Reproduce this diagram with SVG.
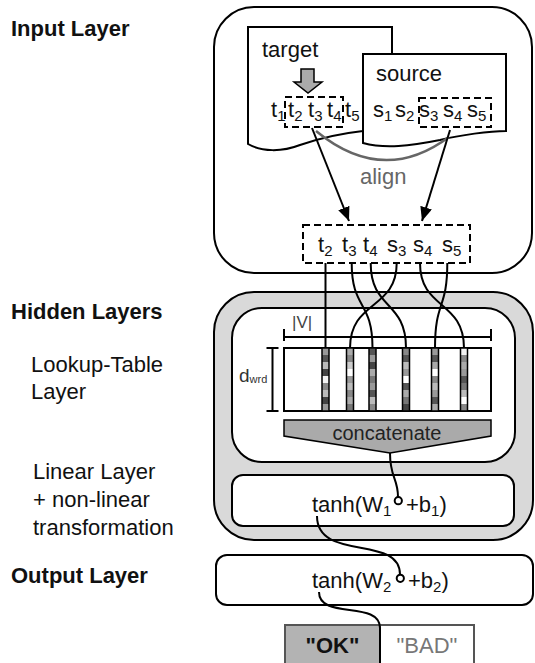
<svg xmlns="http://www.w3.org/2000/svg" width="535" height="663" viewBox="0 0 535 663">
<style>
text{font-family:"Liberation Sans",Arial,sans-serif;font-size:22px;fill:#111}
.b{font-weight:bold}
.sub{font-size:13px}
.sub15{font-size:15px}
.box{fill:#fff;stroke:#000;stroke-width:2}
.ln{fill:none;stroke:#000;stroke-width:2}
.dash{fill:none;stroke:#000;stroke-width:2;stroke-dasharray:7,4}
.col{stroke:#000;stroke-width:1.5}
</style>
<defs>
<marker id="ah" markerUnits="userSpaceOnUse" markerWidth="14" markerHeight="12" viewBox="0 0 14 12" refX="14" refY="6" orient="auto">
<path d="M0,0 L14,6 L0,12 z" fill="#000"/>
</marker>
</defs>
<g id="labels">
<text class="b" x="11" y="36">Input Layer</text>
<text class="b" x="11" y="319">Hidden Layers</text>
<text x="31" y="372">Lookup-Table</text>
<text x="31" y="399">Layer</text>
<text x="33" y="479">Linear Layer</text>
<text x="33" y="507">+ non-linear</text>
<text x="33" y="535">transformation</text>
<text class="b" x="11" y="583">Output Layer</text>
</g>
<g id="input-layer">
<rect class="box" x="214" y="7" width="318" height="266" rx="40"/>
<path class="box" d="M248,27 L392,27 L392,60 L363,60 L363,131 C345,133 320,138 300,145 C282,152 262,152 248,144 Z"/>
<path class="box" d="M363,54 L506,54 L506,131 C490,131 460,135 440,140 C410,146 385,149 363,143 Z"/>
<text x="262" y="57">target</text>
<text x="376" y="81">source</text>
<path d="M301,69 L314,69 L314,82 L322,82 L308,93 L294,82 L301,82 Z" fill="#aaa" stroke="#000" stroke-width="1.5"/>
<text x="271" y="117">t<tspan class="sub15" dy="4">1</tspan></text>
<text x="288" y="117">t<tspan class="sub15" dy="4">2</tspan></text>
<text x="308" y="117">t<tspan class="sub15" dy="4">3</tspan></text>
<text x="327" y="117">t<tspan class="sub15" dy="4">4</tspan></text>
<text x="345" y="117">t<tspan class="sub15" dy="4">5</tspan></text>
<text x="373" y="117">s<tspan class="sub15" dy="4">1</tspan></text>
<text x="395" y="117">s<tspan class="sub15" dy="4">2</tspan></text>
<text x="419" y="117">s<tspan class="sub15" dy="4">3</tspan></text>
<text x="443" y="117">s<tspan class="sub15" dy="4">4</tspan></text>
<text x="467" y="117">s<tspan class="sub15" dy="4">5</tspan></text>
<rect class="dash" x="285" y="97" width="58" height="30"/>
<rect class="dash" x="419" y="98" width="72" height="29"/>
<path d="M316,131 Q383,186 449,137" fill="none" stroke="#666" stroke-width="2.5"/>
<text x="360" y="184" style="fill:#666">align</text>
<rect class="dash" x="303" y="225" width="167" height="38"/>
<text x="318" y="252">t<tspan class="sub15" dy="4">2</tspan></text>
<text x="342" y="252">t<tspan class="sub15" dy="4">3</tspan></text>
<text x="363" y="252">t<tspan class="sub15" dy="4">4</tspan></text>
<text x="387" y="252">s<tspan class="sub15" dy="4">3</tspan></text>
<text x="413" y="252">s<tspan class="sub15" dy="4">4</tspan></text>
<text x="442" y="252">s<tspan class="sub15" dy="4">5</tspan></text>
</g>
<g id="hidden-layers">
<rect x="214" y="292" width="319" height="248" rx="40" fill="#d9d9d9" stroke="#000" stroke-width="2"/>
<rect class="box" x="232" y="308" width="283" height="154" rx="30"/>
<g id="lookup-table">
<path class="ln" d="M284,337 L491,337 M284,329 L284,341 M491,329 L491,341" stroke-width="1.8"/>
<text x="292" y="328" style="font-size:17px;fill:#444">|V|</text>
<path class="ln" d="M272.5,348 L272.5,411 M266.5,348 L278.5,348 M266.5,411 L278.5,411" stroke-width="1.8"/>
<text x="239" y="382" style="font-size:19px;fill:#333">d<tspan style="font-size:11px" dy="1">wrd</tspan></text>
<rect class="box" x="284" y="348" width="207" height="63"/>
<g id="col1">
<rect x="322" y="348" width="7" height="7" fill="#999"/><rect x="322" y="355" width="7" height="7" fill="#555"/><rect x="322" y="362" width="7" height="7" fill="#bbb"/><rect x="322" y="369" width="7" height="7" fill="#444"/><rect x="322" y="376" width="7" height="7" fill="#f2f2f2"/><rect x="322" y="383" width="7" height="7" fill="#888"/><rect x="322" y="390" width="7" height="7" fill="#bbb"/><rect x="322" y="397" width="7" height="7" fill="#444"/><rect x="322" y="404" width="7" height="7" fill="#999"/>
<rect class="col" x="322" y="348" width="7" height="63" fill="none"/>
</g>
<g id="col2">
<rect x="346.5" y="348" width="7" height="7" fill="#aaa"/><rect x="346.5" y="355" width="7" height="7" fill="#888"/><rect x="346.5" y="362" width="7" height="7" fill="#ccc"/><rect x="346.5" y="369" width="7" height="7" fill="#fff"/><rect x="346.5" y="376" width="7" height="7" fill="#999"/><rect x="346.5" y="383" width="7" height="7" fill="#bbb"/><rect x="346.5" y="390" width="7" height="7" fill="#888"/><rect x="346.5" y="397" width="7" height="7" fill="#aaa"/><rect x="346.5" y="404" width="7" height="7" fill="#777"/>
<rect class="col" x="346.5" y="348" width="7" height="63" fill="none"/>
</g>
<g id="col3">
<rect x="369" y="348" width="7" height="7" fill="#555"/><rect x="369" y="355" width="7" height="7" fill="#999"/><rect x="369" y="362" width="7" height="7" fill="#444"/><rect x="369" y="369" width="7" height="7" fill="#aaa"/><rect x="369" y="376" width="7" height="7" fill="#777"/><rect x="369" y="383" width="7" height="7" fill="#999"/><rect x="369" y="390" width="7" height="7" fill="#555"/><rect x="369" y="397" width="7" height="7" fill="#bbb"/><rect x="369" y="404" width="7" height="7" fill="#888"/>
<rect class="col" x="369" y="348" width="7" height="63" fill="none"/>
</g>
<g id="col4">
<rect x="402.5" y="348" width="7" height="7" fill="#888"/><rect x="402.5" y="355" width="7" height="7" fill="#555"/><rect x="402.5" y="362" width="7" height="7" fill="#bbb"/><rect x="402.5" y="369" width="7" height="7" fill="#999"/><rect x="402.5" y="376" width="7" height="7" fill="#fff"/><rect x="402.5" y="383" width="7" height="7" fill="#555"/><rect x="402.5" y="390" width="7" height="7" fill="#aaa"/><rect x="402.5" y="397" width="7" height="7" fill="#777"/><rect x="402.5" y="404" width="7" height="7" fill="#444"/>
<rect class="col" x="402.5" y="348" width="7" height="63" fill="none"/>
</g>
<g id="col5">
<rect x="431.5" y="348" width="7" height="7" fill="#999"/><rect x="431.5" y="355" width="7" height="7" fill="#555"/><rect x="431.5" y="362" width="7" height="7" fill="#aaa"/><rect x="431.5" y="369" width="7" height="7" fill="#fff"/><rect x="431.5" y="376" width="7" height="7" fill="#888"/><rect x="431.5" y="383" width="7" height="7" fill="#bbb"/><rect x="431.5" y="390" width="7" height="7" fill="#999"/><rect x="431.5" y="397" width="7" height="7" fill="#555"/><rect x="431.5" y="404" width="7" height="7" fill="#aaa"/>
<rect class="col" x="431.5" y="348" width="7" height="63" fill="none"/>
</g>
<g id="col6">
<rect x="460.5" y="348" width="7" height="7" fill="#f2f2f2"/><rect x="460.5" y="355" width="7" height="7" fill="#888"/><rect x="460.5" y="362" width="7" height="7" fill="#aaa"/><rect x="460.5" y="369" width="7" height="7" fill="#999"/><rect x="460.5" y="376" width="7" height="7" fill="#555"/><rect x="460.5" y="383" width="7" height="7" fill="#777"/><rect x="460.5" y="390" width="7" height="7" fill="#bbb"/><rect x="460.5" y="397" width="7" height="7" fill="#fff"/><rect x="460.5" y="404" width="7" height="7" fill="#888"/>
<rect class="col" x="460.5" y="348" width="7" height="63" fill="none"/>
</g>
</g>
<g id="concatenate">
<path d="M284,420 L491,420 L491,436 L390,453 L284,436 Z" fill="#aaa" stroke="#000" stroke-width="1.5"/>
<text x="387" y="440" text-anchor="middle" style="font-size:20px;fill:#222">concatenate</text>
</g>
<g id="linear-layer">
<rect class="box" x="232" y="475" width="282" height="51" rx="11"/>
<text x="312" y="512">tanh(W<tspan class="sub15" dy="4">1</tspan></text>
<text x="406" y="512">+b<tspan class="sub15" dy="4">1</tspan><tspan dy="-4">)</tspan></text>
</g>
</g>
<g id="output-layer">
<rect class="box" x="216" y="555" width="317" height="50" rx="11"/>
<text x="312" y="588">tanh(W<tspan class="sub15" dy="4">2</tspan></text>
<text x="408" y="588">+b<tspan class="sub15" dy="4">2</tspan><tspan dy="-4">)</tspan></text>
</g>
<g id="output-labels">
<rect x="285" y="625" width="95" height="45" fill="#b3b3b3" stroke="#555" stroke-width="2"/>
<rect x="380" y="625" width="94" height="45" fill="#fff" stroke="#555" stroke-width="2"/>
<text class="b" x="332.5" y="653" text-anchor="middle">"OK"</text>
<text x="427" y="653" text-anchor="middle" style="fill:#777">"BAD"</text>
</g>
<g id="connectors">
<path class="ln" d="M312,128 L349,221" marker-end="url(#ah)"/>
<path class="ln" d="M450,130 L422,221" marker-end="url(#ah)"/>
<path class="ln" d="M325.5,263 L325.5,348"/>
<path class="ln" d="M351.7,263 C351.7,310 372.5,300 372.5,348"/>
<path class="ln" d="M370.7,263 C370.7,310 406,300 406,348"/>
<path class="ln" d="M396.7,263 C396.7,310 350,300 350,348"/>
<path class="ln" d="M420,263 C420,310 464,300 464,348"/>
<path class="ln" d="M447.3,263 C447.3,310 435,300 435,348"/>
<path class="ln" d="M390,453 C390,478 398,478 398,497"/>
<circle cx="398.3" cy="500.7" r="3.6" fill="#fff" stroke="#000" stroke-width="2"/>
<path class="ln" d="M317,516 C317,562 400,534 400,574.5"/>
<circle cx="400.3" cy="578.3" r="3.6" fill="#fff" stroke="#000" stroke-width="2"/>
<path class="ln" d="M319,592 C319,620 380,600 380,628 L380,663"/>
</g>
</svg>
